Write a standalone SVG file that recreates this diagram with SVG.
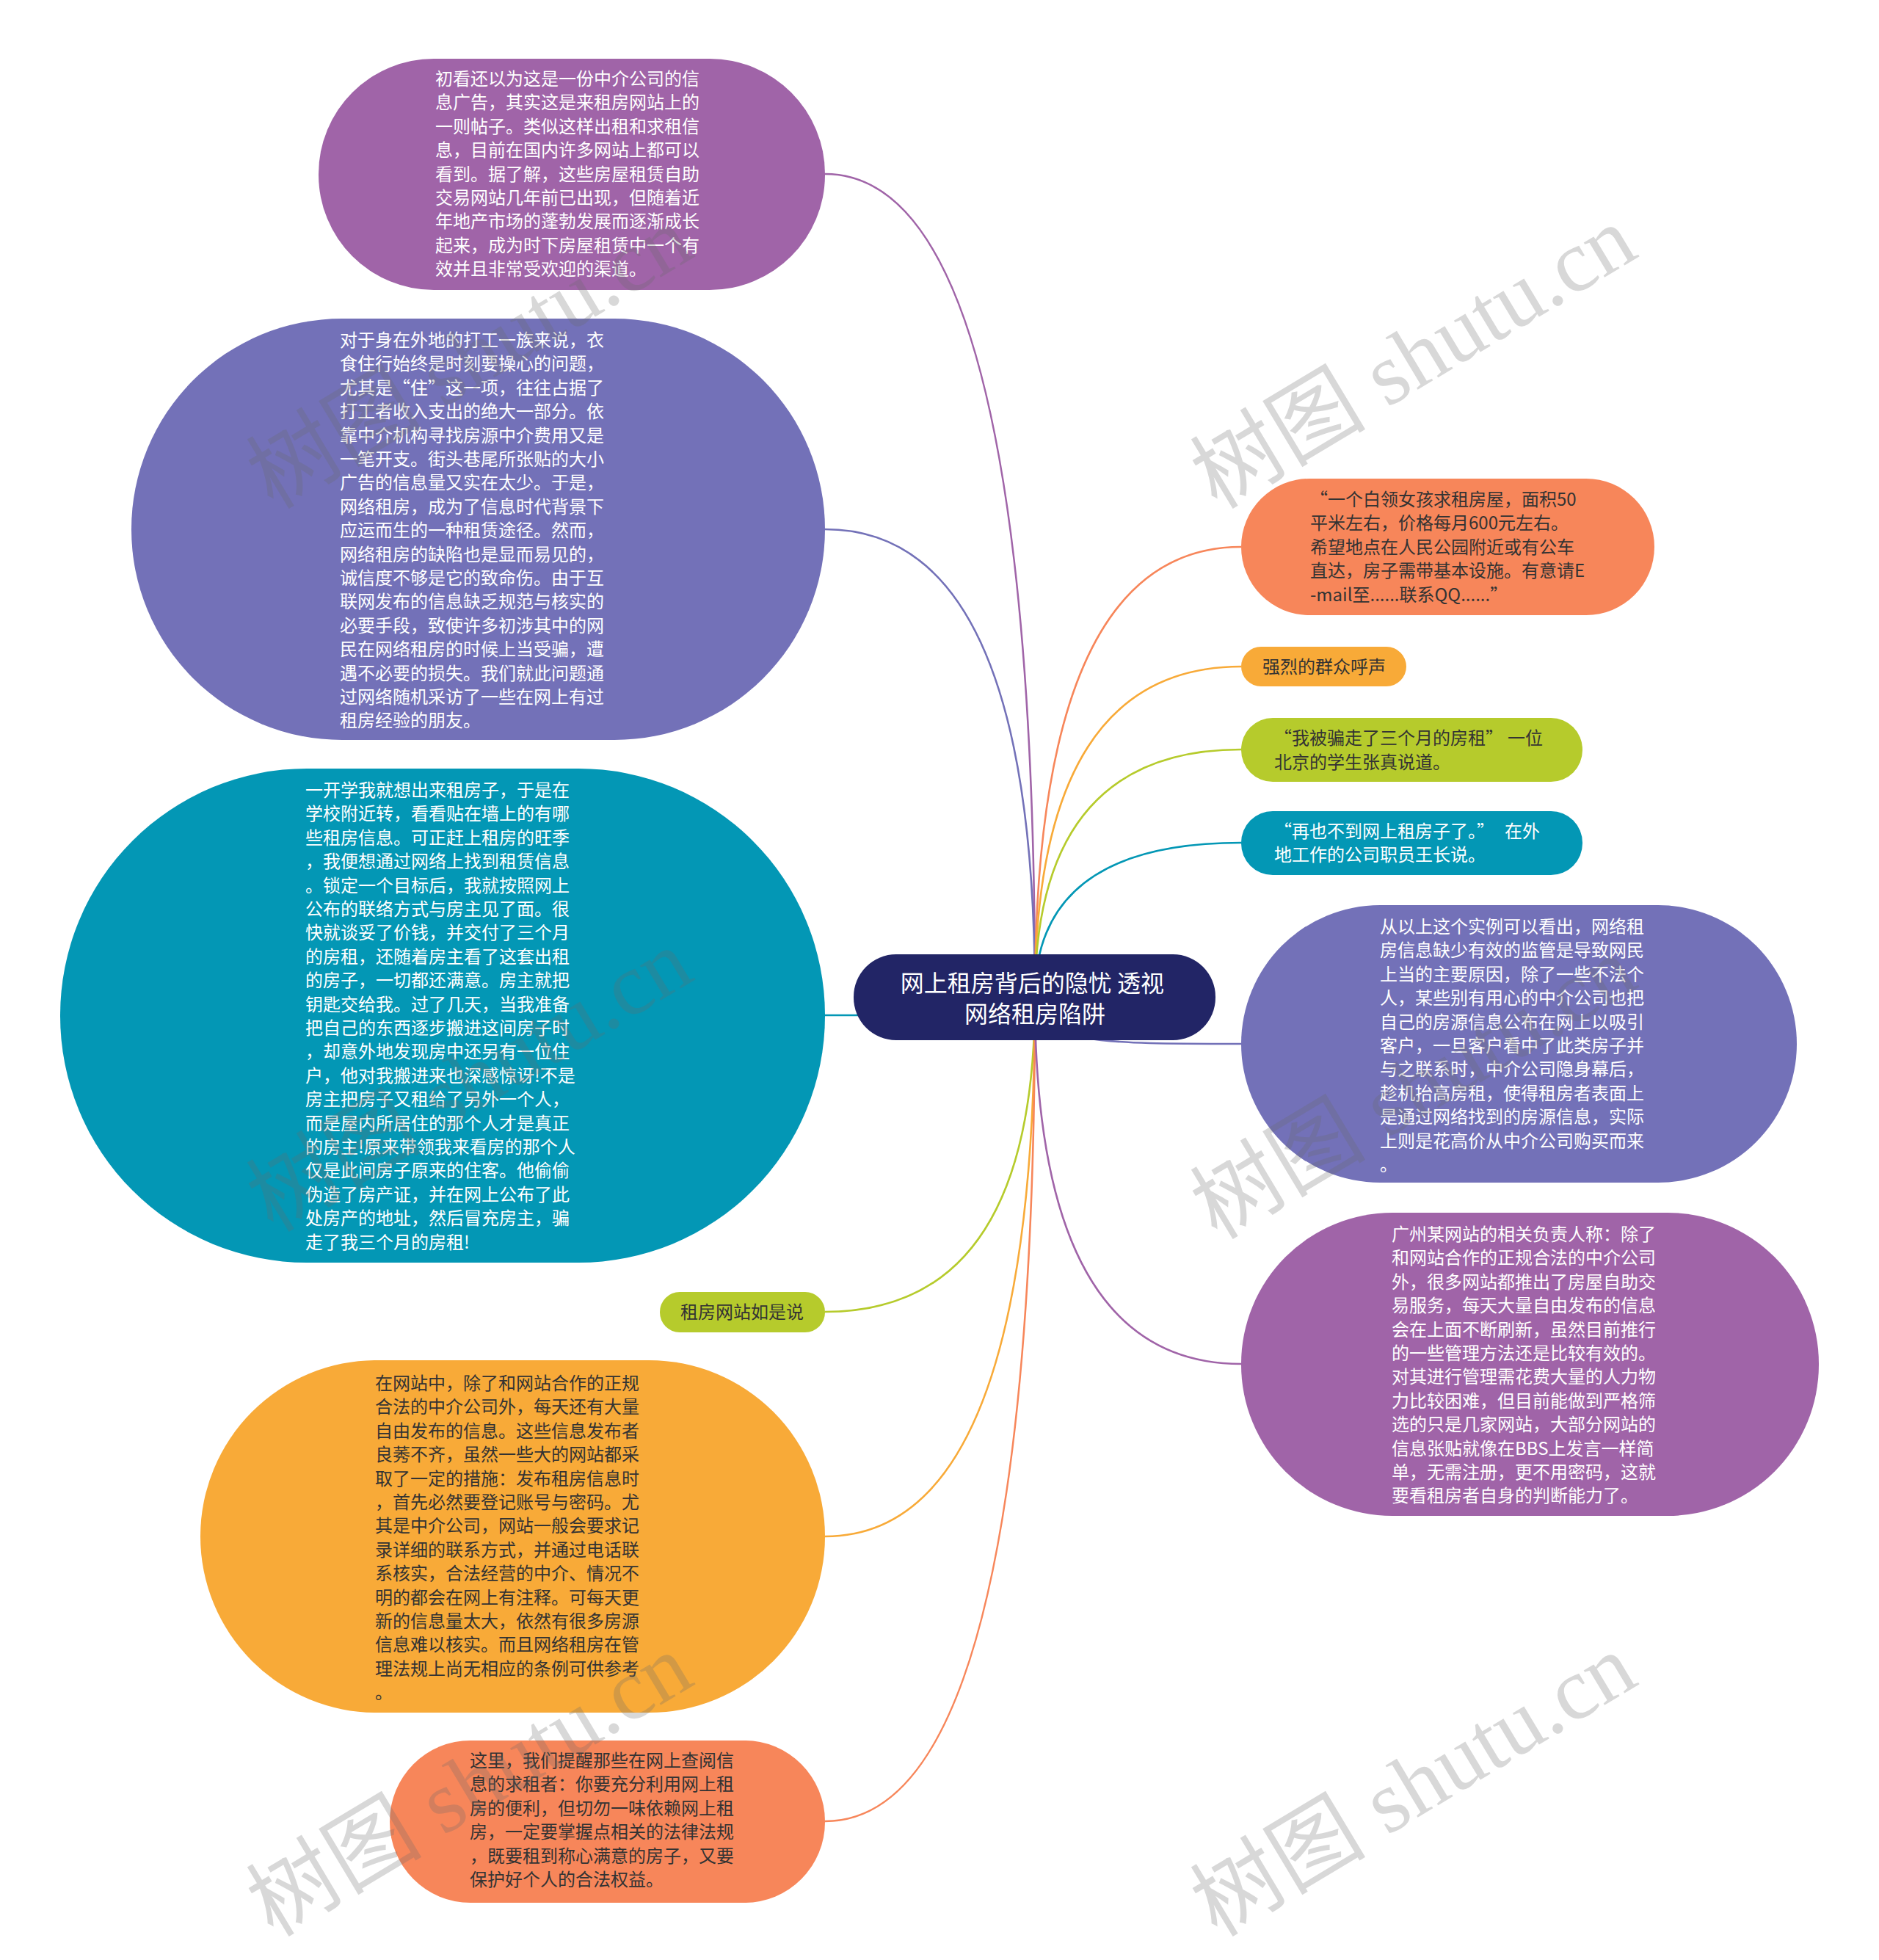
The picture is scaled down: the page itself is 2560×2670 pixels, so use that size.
<svg xmlns="http://www.w3.org/2000/svg" width="2560" height="2670" viewBox="0 0 2560 2670" xml:lang="zh-CN">
<style>
.c{fill:none;stroke-width:2.6}
.t{font-family:"Noto Sans CJK SC","Noto Sans",sans-serif;font-size:24px}
.w{fill:#ffffff}
.d{fill:#333333}
.m{text-anchor:middle}
.wm{font-family:"Liberation Serif","Noto Sans CJK SC",serif;font-size:120px;fill:#6a6a6a;opacity:0.26}
</style>
<rect width="2560" height="2670" fill="#ffffff"/>
<g id="connectors">
<path class="c" stroke="#a064a8" d="M1124,237 Q1410,237 1410,1358"/>
<path class="c" stroke="#7371b8" d="M1124,721 Q1410,721 1410,1358"/>
<path class="c" stroke="#0397b5" d="M1124,1383 L1240,1383"/>
<path class="c" stroke="#b6cb2c" d="M1124,1787 Q1410,1787 1410,1358"/>
<path class="c" stroke="#f8aa38" d="M1124,2093 Q1410,2093 1410,1358"/>
<path class="c" stroke="#f7865a" d="M1124,2481 Q1410,2481 1410,1358"/>
<path class="c" stroke="#f7865a" d="M1691,745 Q1410,745 1410,1358"/>
<path class="c" stroke="#f8aa38" d="M1691,908 Q1410,908 1410,1358"/>
<path class="c" stroke="#b6cb2c" d="M1691,1021 Q1410,1021 1410,1358"/>
<path class="c" stroke="#0397b5" d="M1691,1148 Q1410,1148 1410,1358"/>
<path class="c" stroke="#7371b8" d="M1410,1358 C1410,1422 1500,1422 1691,1422"/>
<path class="c" stroke="#a064a8" d="M1691,1858 Q1410,1858 1410,1358"/>
</g>
<g id="n1">
<rect x="434" y="80" width="690" height="315" rx="157" fill="#a064a8"/>
<text class="t w">
<tspan x="593" y="116">初看还以为这是一份中介公司的信</tspan>
<tspan x="593" y="148">息广告，其实这是来租房网站上的</tspan>
<tspan x="593" y="181">一则帖子。类似这样出租和求租信</tspan>
<tspan x="593" y="213">息，目前在国内许多网站上都可以</tspan>
<tspan x="593" y="246">看到。据了解，这些房屋租赁自助</tspan>
<tspan x="593" y="278">交易网站几年前已出现，但随着近</tspan>
<tspan x="593" y="310">年地产市场的蓬勃发展而逐渐成长</tspan>
<tspan x="593" y="343">起来，成为时下房屋租赁中一个有</tspan>
<tspan x="593" y="375">效并且非常受欢迎的渠道。</tspan>
</text>
</g>
<g id="n2">
<rect x="179" y="434" width="945" height="574" rx="287" fill="#7371b8"/>
<text class="t w">
<tspan x="463" y="472">对于身在外地的打工一族来说，衣</tspan>
<tspan x="463" y="504">食住行始终是时刻要操心的问题，</tspan>
<tspan x="463" y="537">尤其是“住”这一项，往往占据了</tspan>
<tspan x="463" y="569">打工者收入支出的绝大一部分。依</tspan>
<tspan x="463" y="602">靠中介机构寻找房源中介费用又是</tspan>
<tspan x="463" y="634">一笔开支。街头巷尾所张贴的大小</tspan>
<tspan x="463" y="666">广告的信息量又实在太少。于是，</tspan>
<tspan x="463" y="699">网络租房，成为了信息时代背景下</tspan>
<tspan x="463" y="731">应运而生的一种租赁途径。然而，</tspan>
<tspan x="463" y="764">网络租房的缺陷也是显而易见的，</tspan>
<tspan x="463" y="796">诚信度不够是它的致命伤。由于互</tspan>
<tspan x="463" y="828">联网发布的信息缺乏规范与核实的</tspan>
<tspan x="463" y="861">必要手段，致使许多初涉其中的网</tspan>
<tspan x="463" y="893">民在网络租房的时候上当受骗，遭</tspan>
<tspan x="463" y="926">遇不必要的损失。我们就此问题通</tspan>
<tspan x="463" y="958">过网络随机采访了一些在网上有过</tspan>
<tspan x="463" y="990">租房经验的朋友。</tspan>
</text>
</g>
<g id="n3">
<rect x="82" y="1047" width="1042" height="673" rx="336" fill="#0397b5"/>
<text class="t w">
<tspan x="416" y="1085">一开学我就想出来租房子，于是在</tspan>
<tspan x="416" y="1117">学校附近转，看看贴在墙上的有哪</tspan>
<tspan x="416" y="1150">些租房信息。可正赶上租房的旺季</tspan>
<tspan x="416" y="1182">，我便想通过网络上找到租赁信息</tspan>
<tspan x="416" y="1215">。锁定一个目标后，我就按照网上</tspan>
<tspan x="416" y="1247">公布的联络方式与房主见了面。很</tspan>
<tspan x="416" y="1279">快就谈妥了价钱，并交付了三个月</tspan>
<tspan x="416" y="1312">的房租，还随着房主看了这套出租</tspan>
<tspan x="416" y="1344">的房子，一切都还满意。房主就把</tspan>
<tspan x="416" y="1377">钥匙交给我。过了几天，当我准备</tspan>
<tspan x="416" y="1409">把自己的东西逐步搬进这间房子时</tspan>
<tspan x="416" y="1441">，却意外地发现房中还另有一位住</tspan>
<tspan x="416" y="1474">户，他对我搬进来也深感惊讶!不是</tspan>
<tspan x="416" y="1506">房主把房子又租给了另外一个人，</tspan>
<tspan x="416" y="1539">而是屋内所居住的那个人才是真正</tspan>
<tspan x="416" y="1571">的房主!原来带领我来看房的那个人</tspan>
<tspan x="416" y="1603">仅是此间房子原来的住客。他偷偷</tspan>
<tspan x="416" y="1636">伪造了房产证，并在网上公布了此</tspan>
<tspan x="416" y="1668">处房产的地址，然后冒充房主，骗</tspan>
<tspan x="416" y="1701">走了我三个月的房租!</tspan>
</text>
</g>
<g id="n4">
<rect x="899" y="1760" width="225" height="55" rx="27" fill="#b6cb2c"/>
<text class="t d m" x="1011" y="1796">租房网站如是说</text>
</g>
<g id="n5">
<rect x="273" y="1853" width="851" height="480" rx="240" fill="#f8aa38"/>
<text class="t d">
<tspan x="511" y="1893">在网站中，除了和网站合作的正规</tspan>
<tspan x="511" y="1925">合法的中介公司外，每天还有大量</tspan>
<tspan x="511" y="1958">自由发布的信息。这些信息发布者</tspan>
<tspan x="511" y="1990">良莠不齐，虽然一些大的网站都采</tspan>
<tspan x="511" y="2023">取了一定的措施：发布租房信息时</tspan>
<tspan x="511" y="2055">，首先必然要登记账号与密码。尤</tspan>
<tspan x="511" y="2087">其是中介公司，网站一般会要求记</tspan>
<tspan x="511" y="2120">录详细的联系方式，并通过电话联</tspan>
<tspan x="511" y="2152">系核实，合法经营的中介、情况不</tspan>
<tspan x="511" y="2185">明的都会在网上有注释。可每天更</tspan>
<tspan x="511" y="2217">新的信息量太大，依然有很多房源</tspan>
<tspan x="511" y="2249">信息难以核实。而且网络租房在管</tspan>
<tspan x="511" y="2282">理法规上尚无相应的条例可供参考</tspan>
<tspan x="511" y="2314">。</tspan>
</text>
</g>
<g id="n6">
<rect x="531" y="2371" width="593" height="221" rx="110" fill="#f7865a"/>
<text class="t d">
<tspan x="640" y="2407">这里，我们提醒那些在网上查阅信</tspan>
<tspan x="640" y="2439">息的求租者：你要充分利用网上租</tspan>
<tspan x="640" y="2472">房的便利，但切勿一味依赖网上租</tspan>
<tspan x="640" y="2504">房，一定要掌握点相关的法律法规</tspan>
<tspan x="640" y="2537">，既要租到称心满意的房子，又要</tspan>
<tspan x="640" y="2569">保护好个人的合法权益。</tspan>
</text>
</g>
<g id="n7">
<rect x="1691" y="652" width="563" height="186" rx="93" fill="#f7865a"/>
<text class="t d">
<tspan x="1785" y="689">“一个白领女孩求租房屋，面积50</tspan>
<tspan x="1785" y="721">平米左右，价格每月600元左右。</tspan>
<tspan x="1785" y="754">希望地点在人民公园附近或有公车</tspan>
<tspan x="1785" y="786">直达，房子需带基本设施。有意请E</tspan>
<tspan x="1785" y="819">-mail至......联系QQ......”</tspan>
</text>
</g>
<g id="n8">
<rect x="1691" y="881" width="225" height="54" rx="27" fill="#f8aa38"/>
<text class="t d m" x="1804" y="917">强烈的群众呼声</text>
</g>
<g id="n9">
<rect x="1691" y="978" width="465" height="87" rx="43" fill="#b6cb2c"/>
<text class="t d">
<tspan x="1736" y="1014">“我被骗走了三个月的房租”<tspan dx="6">一位</tspan></tspan>
<tspan x="1736" y="1047">北京的学生张真说道。</tspan>
</text>
</g>
<g id="n10">
<rect x="1691" y="1105" width="465" height="87" rx="43" fill="#0397b5"/>
<text class="t w">
<tspan x="1736" y="1141">“再也不到网上租房子了。”<tspan dx="14">在外</tspan></tspan>
<tspan x="1736" y="1173">地工作的公司职员王长说。</tspan>
</text>
</g>
<g id="n11">
<rect x="1691" y="1233" width="757" height="378" rx="189" fill="#7371b8"/>
<text class="t w">
<tspan x="1880" y="1271">从以上这个实例可以看出，网络租</tspan>
<tspan x="1880" y="1303">房信息缺少有效的监管是导致网民</tspan>
<tspan x="1880" y="1336">上当的主要原因，除了一些不法个</tspan>
<tspan x="1880" y="1368">人，某些别有用心的中介公司也把</tspan>
<tspan x="1880" y="1401">自己的房源信息公布在网上以吸引</tspan>
<tspan x="1880" y="1433">客户，一旦客户看中了此类房子并</tspan>
<tspan x="1880" y="1465">与之联系时，中介公司隐身幕后，</tspan>
<tspan x="1880" y="1498">趁机抬高房租，使得租房者表面上</tspan>
<tspan x="1880" y="1530">是通过网络找到的房源信息，实际</tspan>
<tspan x="1880" y="1563">上则是花高价从中介公司购买而来</tspan>
<tspan x="1880" y="1595">。</tspan>
</text>
</g>
<g id="n12">
<rect x="1691" y="1652" width="787" height="413" rx="206" fill="#a064a8"/>
<text class="t w">
<tspan x="1896" y="1690">广州某网站的相关负责人称：除了</tspan>
<tspan x="1896" y="1722">和网站合作的正规合法的中介公司</tspan>
<tspan x="1896" y="1755">外，很多网站都推出了房屋自助交</tspan>
<tspan x="1896" y="1787">易服务，每天大量自由发布的信息</tspan>
<tspan x="1896" y="1820">会在上面不断刷新，虽然目前推行</tspan>
<tspan x="1896" y="1852">的一些管理方法还是比较有效的。</tspan>
<tspan x="1896" y="1884">对其进行管理需花费大量的人力物</tspan>
<tspan x="1896" y="1917">力比较困难，但目前能做到严格筛</tspan>
<tspan x="1896" y="1949">选的只是几家网站，大部分网站的</tspan>
<tspan x="1896" y="1982">信息张贴就像在BBS上发言一样简</tspan>
<tspan x="1896" y="2014">单，无需注册，更不用密码，这就</tspan>
<tspan x="1896" y="2046">要看租房者自身的判断能力了。</tspan>
</text>
</g>
<g id="root">
<rect x="1163" y="1300" width="493" height="117" rx="58" fill="#222566"/>
<text class="m" style="font-family:'Noto Sans CJK SC','Noto Sans',sans-serif;font-size:32px;fill:#ffffff">
<tspan x="1410" y="1351">网上租房背后的隐忧 透视</tspan>
<tspan x="1410" y="1393">网络租房陷阱</tspan>
</text>
</g>
<g id="watermark">
<text class="wm" transform="translate(372,695) rotate(-31)">树图 shutu.cn</text>
<text class="wm" transform="translate(1658,695) rotate(-31)">树图 shutu.cn</text>
<text class="wm" transform="translate(372,1680) rotate(-31)">树图 shutu.cn</text>
<text class="wm" transform="translate(1658,1690) rotate(-31)">树图 shutu.cn</text>
<text class="wm" transform="translate(372,2640) rotate(-31)">树图 shutu.cn</text>
<text class="wm" transform="translate(1658,2640) rotate(-31)">树图 shutu.cn</text>
</g>
</svg>
